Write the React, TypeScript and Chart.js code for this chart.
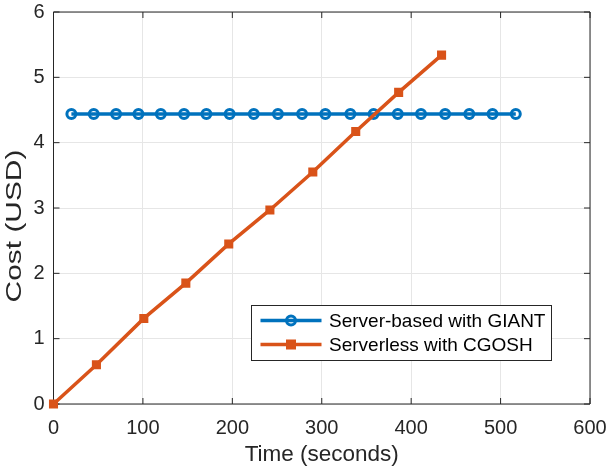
import { useEffect, useRef } from 'react';
import { Chart, registerables } from 'chart.js';

Chart.register(...registerables);

const FONT = '"Liberation Sans", Arial, Helvetica, sans-serif';
const AXIS_COLOR = '#262626';
const BLUE = '#0072BD';
const ORANGE = '#D95319';

// Server-based deployment (GIANT): flat cost sampled over time
const giantTime = [20, 45, 70, 95, 120, 146, 171, 197, 224, 251, 278, 304, 332, 358, 385, 411, 438, 465, 491, 517];
const giantCost = [4.44, 4.44, 4.44, 4.44, 4.44, 4.44, 4.44, 4.44, 4.44, 4.44, 4.44, 4.44, 4.44, 4.44, 4.44, 4.44, 4.44, 4.44, 4.44, 4.44];

// Serverless deployment (CGOSH): cost grows with run time
const cgoshTime = [0, 48, 101, 148, 196, 242, 290, 338, 386, 434];
const cgoshCost = [0, 0.6, 1.31, 1.85, 2.45, 2.97, 3.55, 4.17, 4.77, 5.34];

const xTickValues = [0, 100, 200, 300, 400, 500, 600];
const yTickValues = [0, 1, 2, 3, 4, 5, 6];

const seriesLabels = ['Server-based with GIANT', 'Serverless with CGOSH'];
const xTitle = 'Time (seconds)';
const yTitle = 'Cost (USD)';

// Box around the axes plus inward-pointing tick marks on all four sides
const axisFrame = {
  id: 'axisFrame',
  beforeDatasetsDraw(chart: any) {
    const { ctx, chartArea: a, scales } = chart;
    const len = 6;
    ctx.save();
    ctx.strokeStyle = AXIS_COLOR;
    ctx.lineWidth = 1;
    ctx.beginPath();
    ctx.rect(a.left, a.top, a.right - a.left, a.bottom - a.top);
    for (const v of xTickValues) {
      const px = scales.x.getPixelForValue(v);
      ctx.moveTo(px, a.bottom);
      ctx.lineTo(px, a.bottom - len);
      ctx.moveTo(px, a.top);
      ctx.lineTo(px, a.top + len);
    }
    for (const v of yTickValues) {
      const py = scales.y.getPixelForValue(v);
      ctx.moveTo(a.left, py);
      ctx.lineTo(a.left + len, py);
      ctx.moveTo(a.right, py);
      ctx.lineTo(a.right - len, py);
    }
    ctx.stroke();
    ctx.restore();
  },
};

// Rotated y-axis title
const yAxisTitle = {
  id: 'yAxisTitle',
  afterDraw(chart: any) {
    const { ctx, chartArea: a } = chart;
    ctx.save();
    ctx.translate(15, (a.top + a.bottom) / 2 + 18);
    ctx.rotate(-Math.PI / 2);
    ctx.scale(1.39, 1);
    ctx.font = `21.5px ${FONT}`;
    ctx.fillStyle = AXIS_COLOR;
    ctx.textAlign = 'center';
    ctx.textBaseline = 'middle';
    ctx.fillText(yTitle, 0, 0);
    ctx.restore();
  },
};

// Boxed legend inside the lower-right part of the plot
const legendBox = {
  id: 'legendBox',
  afterDraw(chart: any) {
    const { ctx, chartArea: a } = chart;
    const w = 300;
    const h = 55;
    const x0 = Math.round(a.right - 39.5 - w) + 0.5;
    const y0 = Math.round(a.bottom - 44.5 - h) + 0.5;
    ctx.save();
    ctx.fillStyle = '#ffffff';
    ctx.fillRect(x0, y0, w, h);
    ctx.strokeStyle = AXIS_COLOR;
    ctx.lineWidth = 1;
    ctx.strokeRect(x0, y0, w, h);
    const rows = [
      { label: seriesLabels[0], color: BLUE, marker: 'circle' },
      { label: seriesLabels[1], color: ORANGE, marker: 'rect' },
    ];
    rows.forEach((r, i) => {
      const cy = y0 + 15 + i * 24;
      const lx0 = x0 + 9;
      const lx1 = x0 + 70;
      const mx = (lx0 + lx1) / 2;
      ctx.strokeStyle = r.color;
      ctx.lineWidth = 3.5;
      ctx.beginPath();
      ctx.moveTo(lx0, cy);
      ctx.lineTo(lx1, cy);
      ctx.stroke();
      if (r.marker === 'circle') {
        ctx.lineWidth = 3;
        ctx.beginPath();
        ctx.arc(mx, cy, 4.5, 0, Math.PI * 2);
        ctx.stroke();
      } else {
        ctx.fillStyle = r.color;
        ctx.fillRect(mx - 5, cy - 5, 10, 10);
      }
      ctx.fillStyle = '#000000';
      ctx.font = `19px ${FONT}`;
      ctx.textAlign = 'left';
      ctx.textBaseline = 'middle';
      ctx.fillText(r.label, x0 + 77.5, cy + 1);
    });
    ctx.restore();
  },
};

// Let the layout padding alone decide where the plot area sits
const noScalePadding = (s: any) => {
  s.paddingTop = 0;
  s.paddingBottom = 0;
  s.paddingLeft = 0;
  s.paddingRight = 0;
};

export default function App() {
  const ref = useRef<HTMLCanvasElement>(null);

  useEffect(() => {
    const chart = new Chart(ref.current as HTMLCanvasElement, {
      type: 'line',
      data: {
        datasets: [
          {
            label: seriesLabels[0],
            data: giantTime.map((t, i) => ({ x: t, y: giantCost[i] })),
            borderColor: BLUE,
            borderWidth: 3.5,
            pointStyle: 'circle',
            pointRadius: 4.5,
            pointBorderWidth: 3,
            pointBorderColor: BLUE,
            pointBackgroundColor: 'rgba(0,0,0,0)',
            tension: 0,
            clip: false,
            order: 1,
          },
          {
            label: seriesLabels[1],
            data: cgoshTime.map((t, i) => ({ x: t, y: cgoshCost[i] })),
            borderColor: ORANGE,
            borderWidth: 3.5,
            pointStyle: 'rect',
            pointRadius: 5,
            pointBorderWidth: 2,
            pointBorderColor: ORANGE,
            pointBackgroundColor: ORANGE,
            tension: 0,
            clip: false,
            order: 0,
          },
        ],
      },
      options: {
        responsive: false,
        animation: false,
        devicePixelRatio: 1,
        layout: { padding: { top: 12, right: 20, left: 0, bottom: 0 } },
        plugins: {
          legend: { display: false },
          tooltip: { enabled: false },
        },
        scales: {
          x: {
            type: 'linear',
            min: 0,
            max: 600,
            afterBuildTicks: (s: any) => {
              s.ticks = xTickValues.map((v) => ({ value: v }));
            },
            afterFit: (s: any) => {
              s.height = 68;
              noScalePadding(s);
            },
            ticks: {
              font: { size: 20, family: FONT },
              color: AXIS_COLOR,
              padding: 12,
              maxRotation: 0,
            },
            grid: { color: '#e6e6e6', drawTicks: false, lineWidth: 1 },
            border: { display: false },
            title: {
              display: true,
              text: xTitle,
              color: AXIS_COLOR,
              font: { size: 22.5, family: FONT },
              padding: { top: 0, bottom: 4 },
            },
          },
          y: {
            type: 'linear',
            min: 0,
            max: 6,
            afterBuildTicks: (s: any) => {
              s.ticks = yTickValues.map((v) => ({ value: v }));
            },
            afterFit: (s: any) => {
              s.width = 53.5;
              noScalePadding(s);
            },
            ticks: {
              font: { size: 20, family: FONT },
              color: AXIS_COLOR,
              padding: 9,
            },
            grid: { color: '#e6e6e6', drawTicks: false, lineWidth: 1 },
            border: { display: false },
          },
        },
      },
      plugins: [axisFrame, yAxisTitle, legendBox],
    } as any);
    return () => chart.destroy();
  }, []);

  return (
    <canvas
      ref={ref}
      width={610}
      height={472}
      style={{ position: 'fixed', left: 0, top: 0, width: 610, height: 472, display: 'block' }}
    />
  );
}
